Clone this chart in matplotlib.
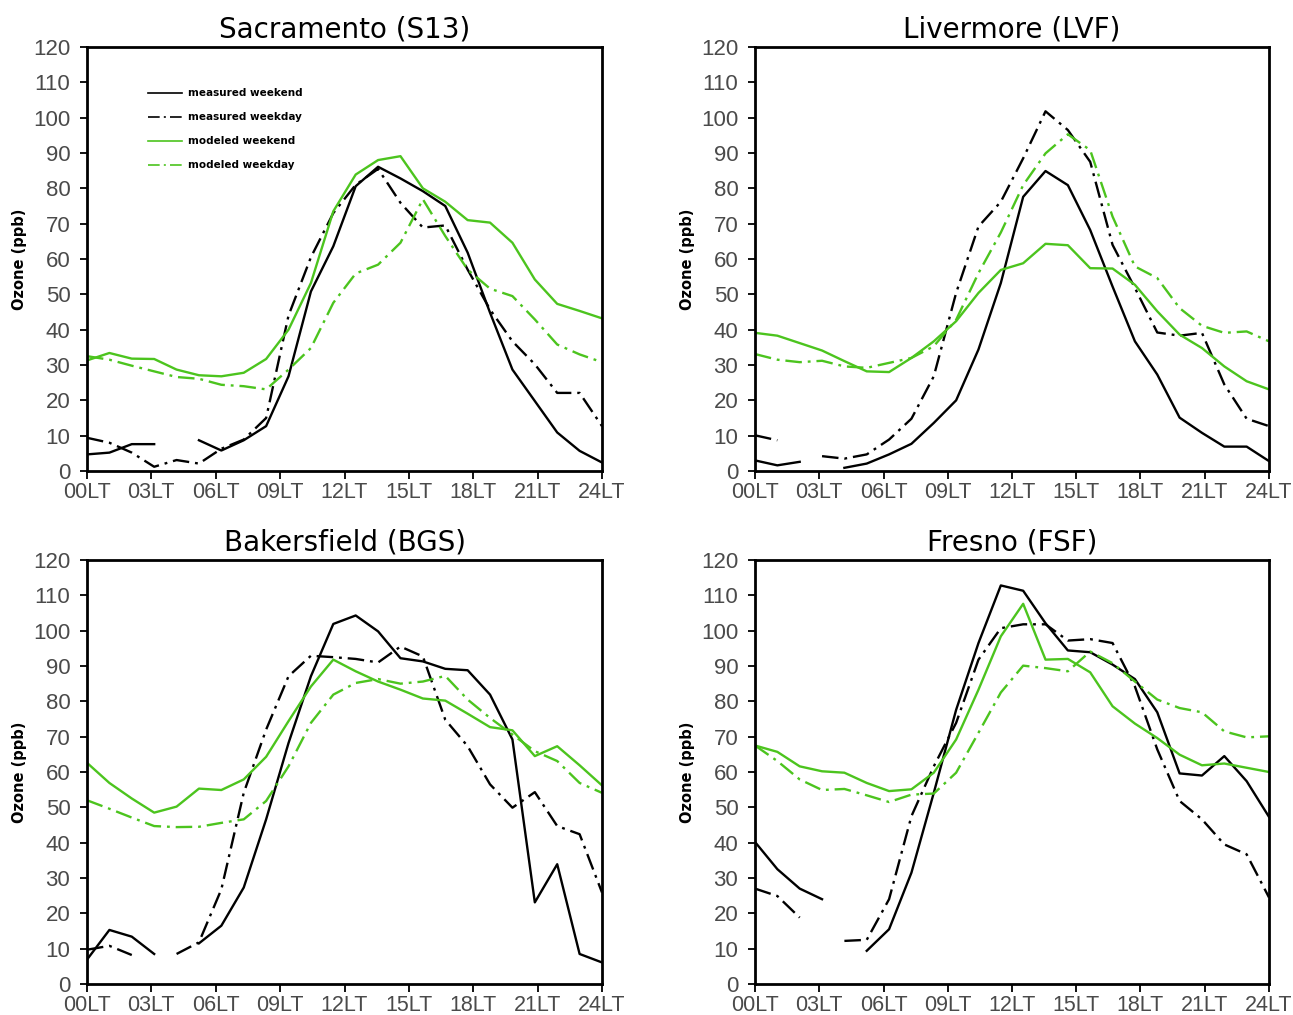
import numpy as np
import matplotlib
matplotlib.use("Agg")
import matplotlib.pyplot as plt

nan = np.nan
hours = np.linspace(0, 24, 24)

stations = ["Sacramento (S13)", "Livermore (LVF)", "Bakersfield (BGS)", "Fresno (FSF)"]

# Sacramento
sac_meas_we = [4.7, 5.2, 7.6, 7.6, nan, 8.7, 5.8, 8.7, 12.7, 26.8, 50.8, 63.6,
               80.6, 86.1, 82.8, 79.2, 75.0, 61.8, 44.8, 28.7, 19.8, 10.9, 5.7, 2.4]
sac_meas_wd = [9.4, 8.0, 5.2, 1.2, 3.1, 2.1, 6.3, 8.9, 15.0, 44.0, 60.5, 73.0,
               81.0, 85.5, 75.9, 68.9, 69.5, 57.0, 45.7, 36.7, 30.2, 22.1, 22.1, 12.7]
sac_mod_we = [31.3, 33.4, 31.8, 31.7, 28.7, 27.1, 26.8, 27.8, 31.7, 40.0, 53.2, 73.5,
              83.9, 88.0, 89.1, 80.0, 76.2, 71.0, 70.3, 64.6, 54.2, 47.3, 45.3, 43.2]
sac_mod_wd = [32.5, 31.5, 29.8, 28.2, 26.6, 26.1, 24.4, 24.0, 23.1, 28.7, 34.8, 47.6,
              55.9, 58.4, 64.6, 76.9, 66.5, 57.0, 51.6, 49.5, 42.9, 35.8, 33.0, 30.8]

# Livermore
lvf_meas_we = [3.0, 1.6, 2.6, nan, 0.9, 2.1, 4.7, 7.7, 13.6, 20.0, 34.4, 53.2,
               77.6, 84.9, 80.9, 68.2, 52.2, 36.7, 27.3, 15.1, 10.8, 6.9, 6.9, 2.8]
lvf_meas_wd = [10.1, 8.7, nan, 4.2, 3.5, 4.7, 8.9, 14.8, 26.8, 50.4, 69.2, 76.2,
               88.5, 101.8, 96.5, 87.5, 64.0, 51.8, 39.2, 38.3, 39.1, 24.5, 14.8, 12.7]
lvf_mod_we = [39.1, 38.3, 36.2, 34.1, 31.1, 28.2, 28.0, 32.0, 36.7, 42.4, 50.4, 56.9,
              58.8, 64.3, 63.9, 57.4, 57.3, 52.7, 45.2, 38.6, 34.8, 29.6, 25.4, 23.1]
lvf_mod_wd = [33.1, 31.5, 30.8, 31.2, 29.6, 29.2, 30.6, 32.0, 35.3, 42.8, 56.0, 67.5,
              80.9, 89.9, 95.3, 90.8, 72.0, 57.9, 54.6, 46.1, 41.1, 39.1, 39.5, 36.7]

# Bakersfield
bgs_meas_we = [6.9, 15.3, 13.4, 8.5, nan, 11.5, 16.5, 27.3, 46.6, 68.2, 87.1, 101.9,
               104.3, 99.8, 92.2, 91.3, 89.2, 88.8, 81.9, 69.2, 23.1, 33.9, 8.5, 6.1]
bgs_meas_wd = [9.7, 10.8, 8.2, nan, 8.5, 11.8, 26.8, 54.1, 72.0, 87.1, 92.9, 92.5,
               92.0, 91.0, 95.5, 92.7, 74.8, 67.3, 56.5, 49.9, 54.3, 44.7, 42.4, 25.9]
bgs_mod_we = [62.6, 56.9, 52.5, 48.5, 50.2, 55.3, 54.9, 57.9, 64.3, 74.4, 84.2, 91.8,
              88.5, 85.6, 83.3, 80.8, 80.2, 76.5, 72.7, 71.8, 64.5, 67.3, 61.9, 56.2]
bgs_mod_wd = [52.0, 49.6, 47.1, 44.7, 44.4, 44.5, 45.6, 46.6, 51.8, 61.6, 73.9, 81.9,
              85.2, 86.3, 85.0, 85.6, 87.2, 80.5, 75.3, 70.6, 65.9, 63.1, 56.9, 54.1]

# Fresno
fsf_meas_we = [40.2, 32.5, 27.0, 24.0, nan, 9.4, 15.5, 31.5, 54.1, 77.6, 96.5, 112.8,
               111.3, 102.1, 94.4, 93.9, 90.4, 86.3, 76.9, 59.6, 59.0, 64.5, 57.4, 47.3]
fsf_meas_wd = [27.0, 24.9, 18.8, nan, 12.2, 12.5, 24.0, 47.5, 61.6, 73.9, 91.8, 100.7,
               101.8, 101.8, 97.2, 97.6, 96.5, 84.2, 66.4, 51.8, 46.6, 39.5, 36.7, 24.5]
fsf_mod_we = [67.5, 65.7, 61.6, 60.2, 59.8, 56.9, 54.6, 55.1, 59.8, 69.2, 83.3, 98.4,
              107.6, 91.8, 92.0, 88.2, 78.6, 73.7, 69.6, 64.9, 61.9, 62.4, 61.2, 60.0]
fsf_mod_wd = [67.5, 63.1, 57.9, 54.9, 55.2, 53.4, 51.5, 53.6, 53.9, 59.8, 71.1, 82.5,
              90.1, 89.4, 88.5, 94.1, 90.8, 85.6, 80.5, 78.1, 76.9, 71.5, 69.8, 70.1]

all_series = [
    (sac_meas_we, sac_meas_wd, sac_mod_we, sac_mod_wd),
    (lvf_meas_we, lvf_meas_wd, lvf_mod_we, lvf_mod_wd),
    (bgs_meas_we, bgs_meas_wd, bgs_mod_we, bgs_mod_wd),
    (fsf_meas_we, fsf_meas_wd, fsf_mod_we, fsf_mod_wd),
]
labels = ["measured weekend", "measured weekday", "modeled weekend", "modeled weekday"]
xticks = [0, 3, 6, 9, 12, 15, 18, 21, 24]
xticklabels = ["%02dLT" % h for h in xticks]

green = "#4cc41e"
dashdot = (0, (7, 2.5, 1.2, 2.5))
styles = [("black", "-"), ("black", dashdot), (green, "-"), (green, dashdot)]

W, H = 1293, 1015
fig = plt.figure(figsize=(W / 100, H / 100), dpi=100)

# axes boxes in pixels: left, right, top, bottom
boxes = [(87, 602, 47, 471), (755, 1269, 47, 471),
         (87, 602, 560, 984), (755, 1269, 560, 984)]

tickfont = ["Liberation Sans", "DejaVu Sans"]

for k, (l, r, t, b) in enumerate(boxes):
    ax = fig.add_axes([l / W, 1 - b / H, (r - l) / W, (b - t) / H])
    for series, (col, ls) in zip(all_series[k], styles):
        ax.plot(hours, series, color=col, linestyle=ls, lw=1.7)
    ax.set_xlim(0, 24)
    ax.set_ylim(0, 120)
    ax.set_xticks(xticks)
    ax.set_xticklabels(xticklabels)
    ax.set_yticks(np.arange(0, 121, 10))
    for lab in ax.get_yticklabels():
        lab.set_family(tickfont)
        lab.set_fontsize(16)
        lab.set_color("#4a4a4a")
    for lab in ax.get_xticklabels():
        lab.set_family(tickfont)
        lab.set_fontsize(15.5)
        lab.set_color("#4a4a4a")
    ax.tick_params(axis="y", direction="out", length=5, width=1.3, pad=7)
    ax.tick_params(axis="x", direction="out", length=6, width=1.3, pad=2)
    for s in ax.spines.values():
        s.set_linewidth(2)
    ax.set_ylabel("Ozone (ppb)", fontsize=10.5, fontweight="bold")
    ax.yaxis.set_label_coords(-0.117, 0.5)
    ax.set_title(stations[k], fontsize=20, pad=7)

    if k == 0:
        handles = [plt.Line2D([], [], color=c, linestyle=s, lw=1.2) for c, s in styles]
        ax.legend(handles, labels, loc="upper left", bbox_to_anchor=(0.101, 0.925),
                  frameon=False, prop={"size": 7.5, "weight": "bold"},
                  handlelength=3.27, handletextpad=0.58, labelspacing=1.35)

fig.savefig("out.png", dpi=100)
